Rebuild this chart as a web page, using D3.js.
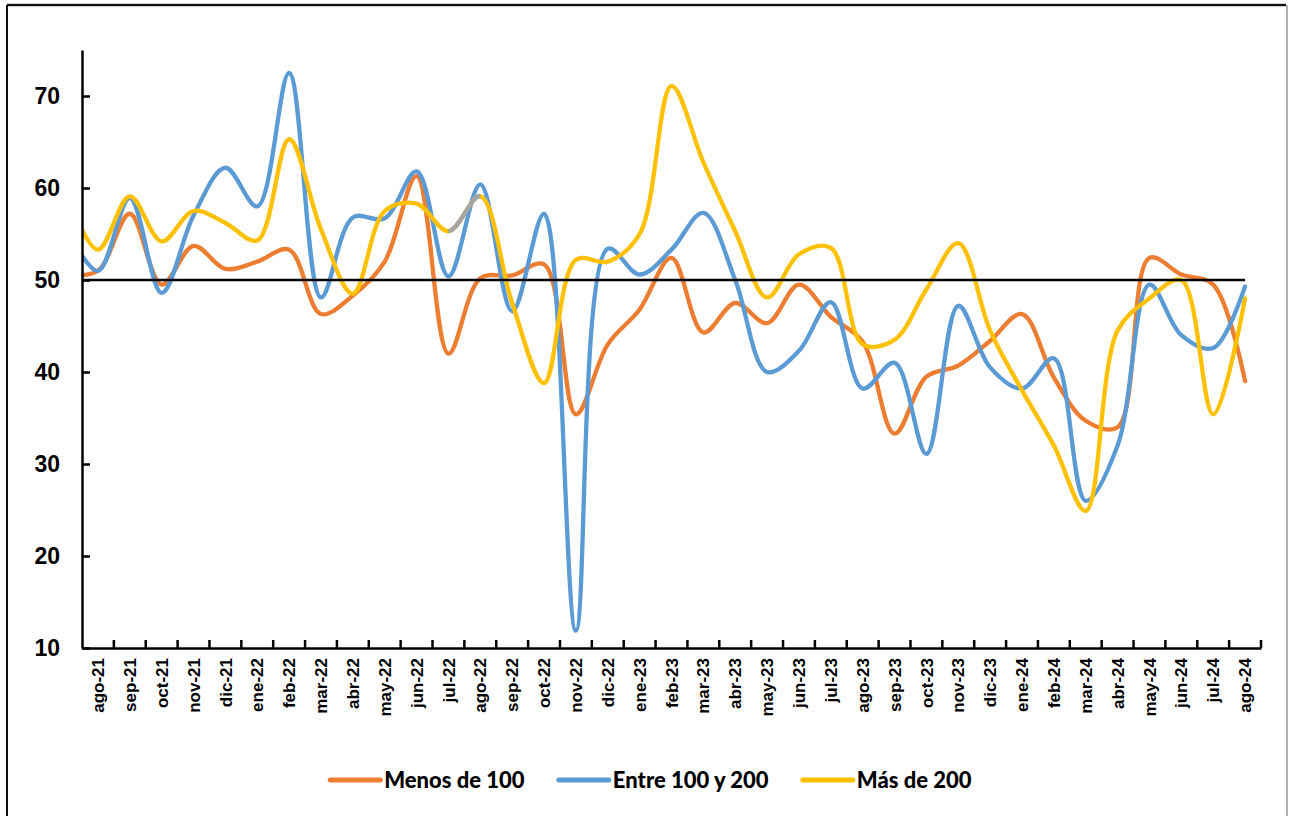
<!DOCTYPE html>
<html>
<head>
<meta charset="utf-8">
<script src="https://cdn.jsdelivr.net/npm/d3@7"></script>
<style>
  body { margin: 0; background: #fff; }
  svg { display: block; font-family: Lato, "Open Sans", sans-serif; font-weight: 900; }
</style>
</head>
<body>
<div id="chart"></div>
<script>
// months incl. jul-21, which sits left of the plot and gets clipped (as in the original)
const MONTHS = ["jul-21", "ago-21", "sep-21", "oct-21", "nov-21", "dic-21",
  "ene-22", "feb-22", "mar-22", "abr-22", "may-22", "jun-22", "jul-22", "ago-22",
  "sep-22", "oct-22", "nov-22", "dic-22", "ene-23", "feb-23", "mar-23", "abr-23",
  "may-23", "jun-23", "jul-23", "ago-23", "sep-23", "oct-23", "nov-23", "dic-23",
  "ene-24", "feb-24", "mar-24", "abr-24", "may-24", "jun-24", "jul-24", "ago-24"];
const TICK_LABELS = MONTHS.slice(1);

const MENOS_100 = [50.5, 51, 57.2, 49.5, 53.7, 51.2, 52, 53.3, 46.3, 48.3, 52, 61.3,
  42, 50.2, 50.5, 51.7, 35.4, 43, 46.8, 52.4, 44.3, 47.5, 45.3, 49.5, 46, 43.3,
  33.3, 39.5, 40.7, 43.4, 46.3, 39.4, 34.7, 34, 52.4, 50.6, 49.5, 39];
const ENTRE_100_200 = [55.6, 51, 58.9, 48.6, 57, 62.2, 58, 72.5, 48.1, 56.8, 56.7, 61.8,
  50.4, 60.4, 46.6, 57.2, 11.9, 53.4, 50.6, 53.3, 57.3, 50, 40, 42.3, 47.6, 38.2,
  41, 31.1, 47.2, 40.5, 38.2, 41.5, 26, 32, 49.5, 44, 42.6, 49.3];
const MAS_200 = [59.4, 53.3, 59.1, 54.2, 57.5, 56.2, 54.3, 65.3, 55.5, 48.5, 57.5, 58.3,
  55.3, 59.1, 47.5, 38.8, 52.2, 52, 55, 71.1, 62.8, 55.3, 48.1, 52.8, 53.5, 43,
  43.5, 49, 54, 44.5, 38, 32, 24.9, 44.5, 48, 50, 35.4, 48];
const REFERENCE = 50;
const Y_TICKS = [10, 20, 30, 40, 50, 60, 70];
const Y_DOMAIN = [10, 75];
// one segment of the yellow line shows in grey in the original
const GREY_FROM = "jul-22";
const GREY_TO = "ago-22";

const SERIES = [
  { name: "Menos de 100", values: MENOS_100, color: "#ED7D31" },
  { name: "Entre 100 y 200", values: ENTRE_100_200, color: "#5B9BD5" },
  { name: "Más de 200", values: MAS_200, color: "#FFC000" }
];

const MARGIN = { TOP: 50, LEFT: 82 };
const WIDTH = 1179;
const HEIGHT = 598;

const svg = d3.select("#chart").append("svg")
  .attr("width", 1290)
  .attr("height", 816);

// outer frame
svg.append("line").attr("x1", 7).attr("x2", 1286).attr("y1", 5).attr("y2", 5)
  .attr("stroke", "#d0d0d0").attr("stroke-width", 4);
svg.append("line").attr("x1", 7).attr("x2", 1286).attr("y1", 5).attr("y2", 5)
  .attr("stroke", "#111").attr("stroke-width", 2);
svg.append("line").attr("x1", 7).attr("x2", 7).attr("y1", 5).attr("y2", 816)
  .attr("stroke", "#111").attr("stroke-width", 2);
svg.append("line").attr("x1", 1287).attr("x2", 1287).attr("y1", 5).attr("y2", 816)
  .attr("stroke", "#b0b0b0").attr("stroke-width", 2);

const chart = svg.append("g")
  .attr("transform", "translate(" + MARGIN.LEFT + "," + MARGIN.TOP + ")");

svg.append("defs").append("clipPath").attr("id", "plot-clip")
  .append("rect").attr("x", 0).attr("y", -20).attr("width", WIDTH + 20).attr("height", HEIGHT + 40);

const xIdx = d3.scaleLinear().domain([0.5, MONTHS.length - 0.5]).range([0, WIDTH]);
const xBand = d3.scaleBand().domain(TICK_LABELS).range([0, WIDTH]);
const y = d3.scaleLinear().domain(Y_DOMAIN).range([HEIGHT, 0]);

const line = d3.line()
  .x((d, i) => xIdx(i))
  .y((d) => y(d))
  .curve(d3.curveCatmullRom.alpha(0.5));

const plot = chart.append("g").attr("clip-path", "url(#plot-clip)");

SERIES.forEach((s) => {
  plot.append("path")
    .datum(s.values)
    .attr("fill", "none")
    .attr("stroke", s.color)
    .attr("stroke-width", 4.3)
    .attr("stroke-linejoin", "round")
    .attr("stroke-linecap", "round")
    .attr("d", line);
});

// grey piece of the "Más de 200" line
const g0 = xIdx(MONTHS.indexOf(GREY_FROM));
const g1 = xIdx(MONTHS.indexOf(GREY_TO));
svg.select("defs").append("clipPath").attr("id", "grey-clip")
  .append("rect").attr("x", g0).attr("y", 0).attr("width", g1 - g0).attr("height", HEIGHT);
chart.append("path")
  .datum(MAS_200)
  .attr("clip-path", "url(#grey-clip)")
  .attr("fill", "none")
  .attr("stroke", "#A5A5A5")
  .attr("stroke-width", 4.3)
  .attr("d", line);

// reference line at 50
plot.append("line")
  .attr("x1", xIdx(0)).attr("x2", xIdx(MONTHS.length - 1))
  .attr("y1", y(REFERENCE)).attr("y2", y(REFERENCE))
  .attr("stroke", "#000")
  .attr("stroke-width", 2.5);

// y axis
const yAxis = chart.append("g")
  .call(d3.axisLeft(y).tickValues(Y_TICKS).tickSize(-8).tickPadding(22).tickSizeOuter(0));
yAxis.select(".domain").attr("stroke", "#000").attr("stroke-width", 2.5);
yAxis.selectAll(".tick line").attr("stroke-width", 2.5);
yAxis.selectAll("text")
  .attr("font-size", 23)
  .attr("font-weight", 900)
  .attr("fill", "#000");

// x axis
const xAxis = chart.append("g")
  .attr("transform", "translate(0," + HEIGHT + ")")
  .call(d3.axisBottom(xBand).tickSize(0).tickSizeOuter(0));
xAxis.select(".domain").attr("stroke", "#000").attr("stroke-width", 2.5);
xAxis.selectAll(".tick text")
  .attr("transform", "rotate(-90)")
  .attr("text-anchor", "end")
  .attr("x", -10)
  .attr("y", 0)
  .attr("dy", "0.36em")
  .attr("font-size", 17)
  .attr("font-weight", 900)
  .attr("fill", "#000");
xAxis.selectAll(".band-tick")
  .data(TICK_LABELS)
  .enter()
  .append("line")
  .attr("x1", (d) => xBand(d) + xBand.bandwidth())
  .attr("x2", (d) => xBand(d) + xBand.bandwidth())
  .attr("y1", 0)
  .attr("y2", -8)
  .attr("stroke", "#000")
  .attr("stroke-width", 2.5);

// legend
const legend = svg.append("g").attr("transform", "translate(0,780)");
let lx = 0;
const items = legend.selectAll("g.item").data(SERIES).enter().append("g").attr("class", "item");
items.append("line")
  .attr("x1", 0).attr("x2", 50)
  .attr("stroke", (d) => d.color)
  .attr("stroke-width", 5)
  .attr("stroke-linecap", "round");
items.append("text")
  .attr("x", 54)
  .attr("dy", "0.36em")
  .attr("font-size", 22)
  .attr("font-weight", 900)
  .attr("fill", "#000")
  .text((d) => d.name);
items.each(function () {
  const w = this.getBBox().width;
  d3.select(this).attr("transform", "translate(" + lx + ",0)");
  lx += w + 34;
});
const legendWidth = lx - 34;
legend.attr("transform", "translate(" + (651 - legendWidth / 2) + ",780)");
</script>
</body>
</html>
